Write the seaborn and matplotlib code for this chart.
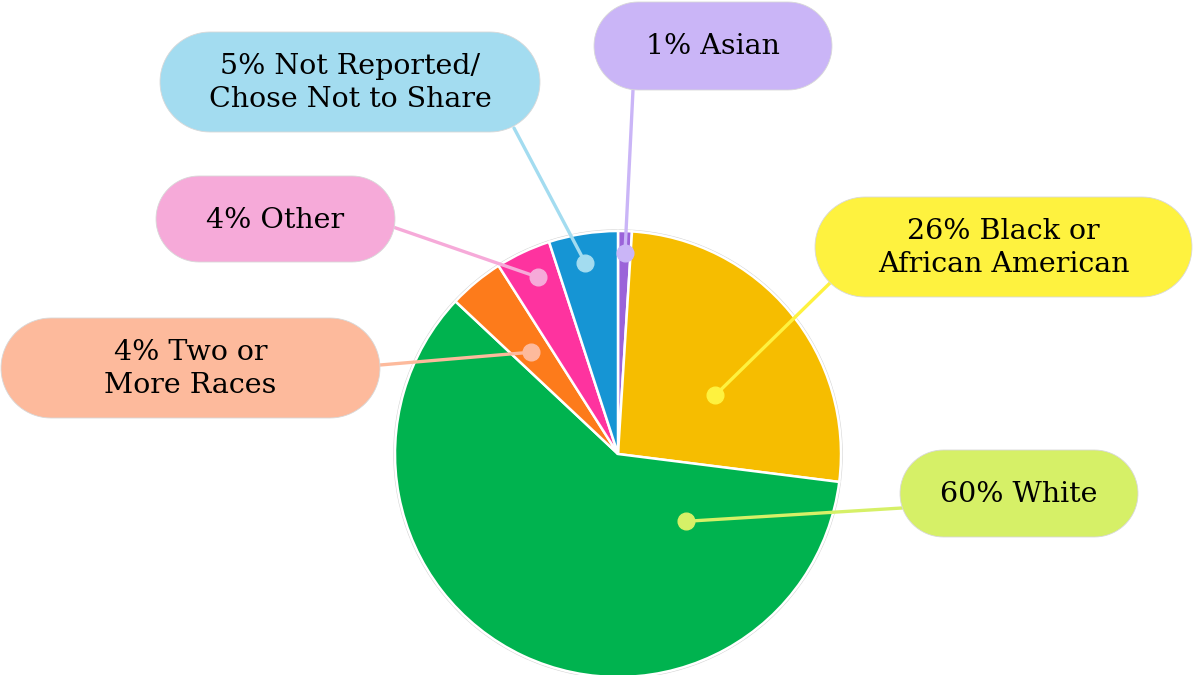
import numpy as np
import matplotlib.pyplot as plt
import seaborn as sns
from matplotlib.patches import Polygon, Circle

# data, in pie order (clockwise from 12 o'clock)
labels = ['1% Asian',
          '26% Black or\nAfrican American',
          '60% White',
          '4% Two or\nMore Races',
          '4% Other',
          '5% Not Reported/\nChose Not to Share']
shares = [1, 26, 60, 4, 4, 5]
slice_colors = ['#9b63d9', '#f6bd00', '#00b34f', '#fd7b1b', '#fe339f', '#1695d4']
box_colors = ['#cab5f7', '#fef23f', '#d6f067', '#fdba9c', '#f6aad9', '#a3dcf0']

sns.set_style('white')
plt.rcParams['font.family'] = ['DejaVu Serif', 'DejaVu Sans']

W, H = 1193, 675
fig = plt.figure(figsize=(W / 100, H / 100), dpi=100)
ax = fig.add_axes([0, 0, 1, 1])

cx, cy, R = 618, H - 454, 223
wedges, _ = ax.pie(shares, colors=slice_colors, startangle=90, counterclock=False,
                   center=(cx, cy), radius=R,
                   wedgeprops=dict(edgecolor='white', linewidth=1.8))
for w in wedges:
    w.set_zorder(1)
ax.add_patch(Circle((cx, cy), R + 1.2, facecolor='none', edgecolor='#d4d4d4',
                    linewidth=0.8, zorder=0.5))
ax.set_xlim(0, W)
ax.set_ylim(0, H)
ax.set_aspect('equal')
ax.axis('off')


def pill(l, b, r, t):
    rad = (t - b) / 2
    ym = (t + b) / 2
    a1 = np.linspace(np.pi / 2, 3 * np.pi / 2, 40)
    a2 = np.linspace(-np.pi / 2, np.pi / 2, 40)
    xs = np.concatenate([l + rad + rad * np.cos(a1), r - rad + rad * np.cos(a2)])
    ys = np.concatenate([ym + rad * np.sin(a1), ym + rad * np.sin(a2)])
    return np.column_stack([xs, ys])


# label layout in pixels from top-left: box (left, top, right, bottom),
# leader start on the box, dot position as (fraction along wedge, radius fraction)
boxes = [(594, 2, 832, 90), (815, 197, 1192, 297), (900, 450, 1138, 537),
         (1, 318, 380, 418), (156, 176, 395, 262), (160, 32, 540, 132)]
starts = [(633, 90), (830, 283), (902, 508), (380, 365), (393, 227), (514, 128)]
dots = [(0.45, 0.9), (0.41, 0.51), (0.827, 0.43), (0.56, 0.6), (0.44, 0.87), (0.54, 0.87)]

for w, lab, bc, (l, t, r, b), (sx, sy), (fa, fr) in zip(wedges, labels, box_colors,
                                                         boxes, starts, dots):
    ang = np.deg2rad(w.theta1 + fa * (w.theta2 - w.theta1))
    dx, dy = cx + fr * R * np.cos(ang), cy + fr * R * np.sin(ang)
    ax.plot([sx, dx], [H - sy, dy], color=bc, lw=2.4, zorder=2, solid_capstyle='round')
    ax.plot(dx, dy, 'o', ms=12, color=bc, zorder=3)
    ax.add_patch(Polygon(pill(l, H - b, r, H - t), closed=True, facecolor=bc,
                         edgecolor='#d8d8d8', linewidth=0.6, zorder=4))
    ax.text((l + r) / 2, H - (t + b) / 2 - 1, lab, ha='center', va='center',
            fontsize=20.5, linespacing=1.3, color='black', zorder=5)

fig.savefig('out.png', dpi=100, facecolor='white')
